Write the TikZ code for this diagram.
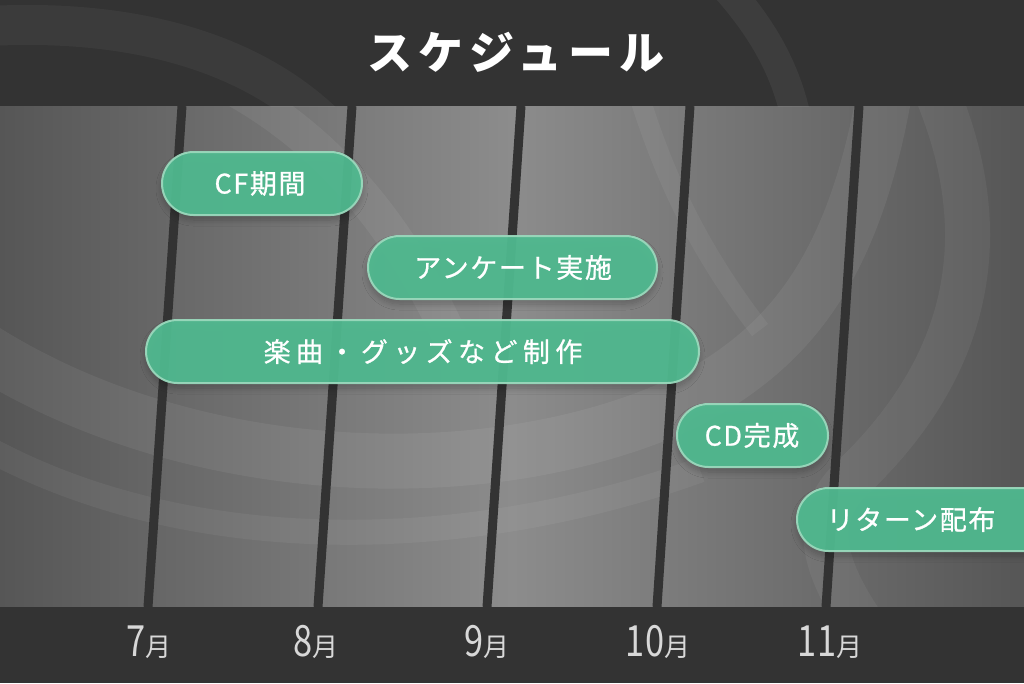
\documentclass[tikz,border=0pt]{standalone}
\usepackage{fontspec}
\usetikzlibrary{shadows.blur}
\setmainfont{Noto Sans CJK JP}
\newfontfamily\titlefont[LetterSpace=13]{Noto Sans CJK JP}
\newfontfamily\pillfont[LetterSpace=6, FakeBold=0.8]{Noto Sans CJK JP}
\newfontfamily\pillwidefont[LetterSpace=20, FakeBold=0.8]{Noto Sans CJK JP}
\newfontfamily\numfont[FakeStretch=0.8]{Noto Sans CJK JP}
\definecolor{band}{HTML}{333333}
\definecolor{midgray}{HTML}{8C8C8C}
\definecolor{edgegray}{HTML}{565656}
\definecolor{pillgreen}{HTML}{50BA90}
\definecolor{pillborder}{HTML}{9AD8BC}
\definecolor{monthtext}{HTML}{D8D8D8}
\tikzset{
  pillbox/.style={rectangle, rounded corners=31.5pt, minimum height=63pt,
    fill=pillgreen, fill opacity=0.94, draw=pillborder, draw opacity=0.95,
    line width=2pt, inner sep=0pt,
    blur shadow={shadow blur steps=10, shadow xshift=0pt, shadow yshift=-5pt,
      shadow blur radius=6pt, shadow opacity=25}},
  pilltext/.style={text=white, font=\pillfont\fontsize{27}{27}\selectfont, inner sep=0pt},
  monthline/.style={draw=band, line width=9pt},
  monthlabel/.style={text=monthtext, anchor=base, inner sep=0pt},
  swirl/.style={draw=white, draw opacity=0.06},
}
\begin{document}
\begin{tikzpicture}[x=1pt,y=-1pt]
\useasboundingbox (0,0) rectangle (1024,683);
% background gradient
\shade[left color=edgegray, right color=midgray] (0,106) rectangle (512,607);
\shade[left color=midgray, right color=edgegray] (512,106) rectangle (1024,607);
% faint swirls
\begin{scope}
\clip (0,0) rectangle (1024,683);
\draw[swirl, line width=55pt] (-60,320) .. controls (150,480) and (480,500) .. (690,400) .. controls (800,340) and (880,250) .. (900,-40);
\draw[swirl, line width=25pt, draw opacity=0.05] (-60,420) .. controls (150,560) and (450,560) .. (700,470);
\draw[swirl, line width=35pt] (-40,30) .. controls (180,20) and (360,120) .. (460,360);
\draw[swirl, line width=45pt, draw opacity=0.05] (860,-40) .. controls (1000,150) and (1010,330) .. (850,480) .. controls (780,550) and (880,640) .. (930,720);
\draw[swirl, line width=20pt, draw opacity=0.05] (600,-40) .. controls (640,100) and (660,200) .. (760,330);
\end{scope}
% bands
\fill[band] (0,0) rectangle (1024,106);
\fill[band] (0,607) rectangle (1024,683);
\begin{scope}
\clip (0,0) rectangle (1024,106);
\draw[swirl, line width=30pt, draw opacity=0.05] (700,-40) .. controls (760,20) and (790,70) .. (800,140);
\draw[swirl, line width=40pt, draw opacity=0.04] (-60,30) .. controls (120,10) and (260,50) .. (340,140);
\end{scope}
% month lines
\coordinate (t1) at (182,106); \coordinate (b1) at (148,607);
\coordinate (t2) at (352,106); \coordinate (b2) at (318,607);
\coordinate (t3) at (521,106); \coordinate (b3) at (487,607);
\coordinate (t4) at (690,106); \coordinate (b4) at (657,607);
\coordinate (t5) at (859,106); \coordinate (b5) at (826,607);
\foreach \i in {1,...,5} {\draw[monthline] (t\i) -- (b\i);}
% title
\node[text=white, inner sep=0pt, font=\titlefont\bfseries\fontsize{45}{45}\selectfont] (title) at (516,52) {スケジュール};
% pills
\node[pillbox, minimum width=200pt] (cf) at (262,183.5) {};
\node[pilltext] (cft) at (260,183.5) {CF期間};
\node[pillbox, minimum width=289pt] (anq) at (512.5,267.5) {};
\node[pilltext] (anqt) at (513,267.5) {アンケート実施};
\node[pillbox, minimum width=553pt] (mus) at (422.5,351.5) {};
\node[pilltext, font=\pillwidefont\fontsize{27}{27}\selectfont] (must) at (423,351.5) {楽曲・グッズなど制作};
\node[pillbox, minimum width=151pt] (cd) at (752.5,435.5) {};
\node[pilltext] (cdt) at (752,435.5) {CD完成};
\node[pillbox, minimum width=320pt, anchor=west] (ret) at (796,519.5) {};
\node[pilltext] (rett) at (911,519.5) {リターン配布};
% month labels
\node[monthlabel] (m7) at (149,656) {{\numfont\fontsize{43}{43}\selectfont 7}{\fontsize{26}{26}\selectfont 月}};
\node[monthlabel] (m8) at (316,656) {{\numfont\fontsize{43}{43}\selectfont 8}{\fontsize{26}{26}\selectfont 月}};
\node[monthlabel] (m9) at (487,656) {{\numfont\fontsize{43}{43}\selectfont 9}{\fontsize{26}{26}\selectfont 月}};
\node[monthlabel] (m10) at (658,656) {{\numfont\fontsize{43}{43}\selectfont 10}{\fontsize{26}{26}\selectfont 月}};
\node[monthlabel] (m11) at (830,656) {{\numfont\fontsize{43}{43}\selectfont 11}{\fontsize{26}{26}\selectfont 月}};
\end{tikzpicture}
\end{document}
